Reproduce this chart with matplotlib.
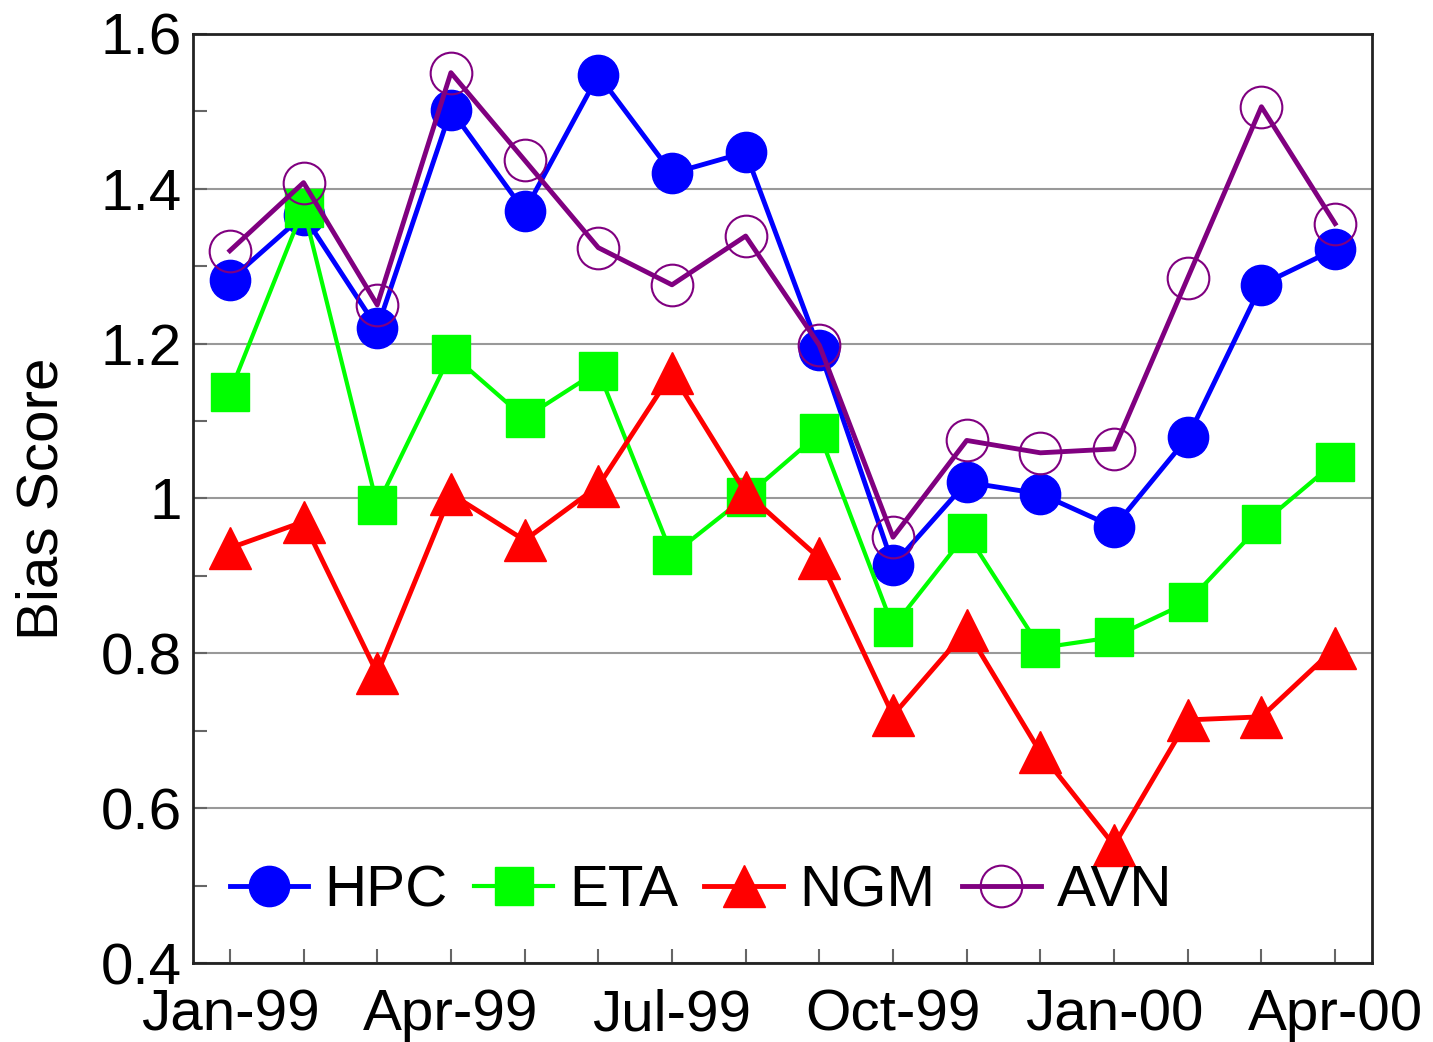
import matplotlib
matplotlib.use("Agg")
import matplotlib.pyplot as plt

months = ["Jan-99", "Feb-99", "Mar-99", "Apr-99", "May-99", "Jun-99", "Jul-99", "Aug-99",
          "Sep-99", "Oct-99", "Nov-99", "Dec-99", "Jan-00", "Feb-00", "Mar-00", "Apr-00"]
hpc = [1.282, 1.366, 1.220, 1.502, 1.371, 1.547, 1.420, 1.447,
       1.192, 0.914, 1.021, 1.006, 0.963, 1.079, 1.276, 1.322]
eta = [1.137, 1.375, 0.991, 1.187, 1.104, 1.165, 0.927, 1.002,
       1.084, 0.834, 0.955, 0.807, 0.821, 0.866, 0.967, 1.047]
ngm = [0.936, 0.970, 0.774, 1.006, 0.946, 1.016, 1.162, 1.008,
       0.923, 0.720, 0.830, 0.672, 0.552, 0.714, 0.718, 0.807]
avn = [1.320, 1.408, 1.250, 1.550, 1.437, 1.324, 1.276, 1.339,
       1.198, 0.950, 1.075, 1.059, 1.064, 1.285, 1.506, 1.355]

plt.rcParams["font.family"] = ["Liberation Sans", "DejaVu Sans"]

fig = plt.figure(figsize=(14.33, 10.42), dpi=100)
ax = fig.add_axes([0.1347, 0.0758, 0.8227, 0.8916])

x = list(range(len(months)))
ax.plot(x, hpc, color="#0000ff", lw=3.5, marker="o", ms=29, label="HPC")
ax.plot(x, eta, color="#00ff00", lw=3, marker="s", ms=27, label="ETA")
ax.plot(x, ngm, color="#ff0000", lw=3.5, marker="^", ms=30, label="NGM")
ax.plot(x, avn, color="#800080", lw=3.5, marker="o", ms=30, mfc="none",
        mec="#800080", mew=1.5, label="AVN")

ax.set_xlim(-0.5, 15.5)
ax.set_ylim(0.4, 1.6)
ax.set_yticks([0.4, 0.6, 0.8, 1.0, 1.2, 1.4, 1.6])
ax.set_yticklabels(["0.4", "0.6", "0.8", "1", "1.2", "1.4", "1.6"])
ax.set_yticks([0.5, 0.7, 0.9, 1.1, 1.3, 1.5], minor=True)
ax.set_xticks(x)
ax.set_xticklabels([m if i % 3 == 0 else "" for i, m in enumerate(months)])
ax.grid(axis="y", which="major", color="#999999", lw=1.5)
ax.set_axisbelow(True)
ax.tick_params(axis="both", which="both", direction="in", labelsize=42, color="#666666",
               width=1.5, length=10, top=False, right=False)
ax.tick_params(axis="y", pad=8)
ax.tick_params(axis="x", pad=18)
for s in ax.spines.values():
    s.set_color("#222222")
    s.set_linewidth(2)
ax.set_ylabel("Bias Score", fontsize=42, labelpad=22)

ax.legend(loc="center left", bbox_to_anchor=(0.031, 0.077), ncol=4, frameon=False, fontsize=42,
          handlelength=1.35, handletextpad=0.28, columnspacing=0.45, borderaxespad=0,
          borderpad=0)

fig.savefig("out.png", dpi=100)
